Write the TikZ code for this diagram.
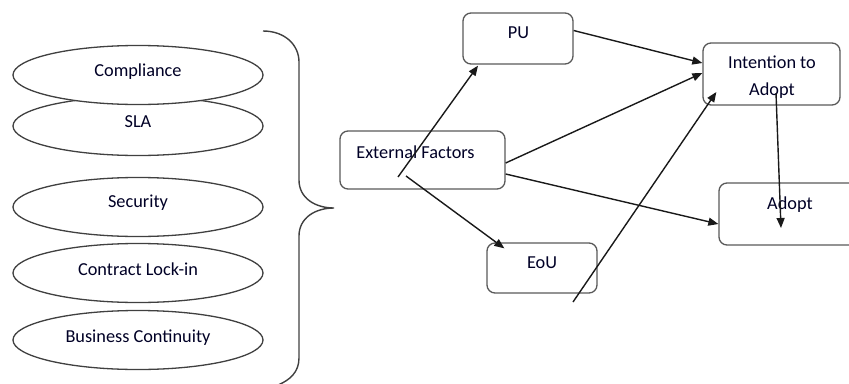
\documentclass[tikz,border=0pt]{standalone}
\usepackage{fontspec}
\setmainfont{Carlito}
\usetikzlibrary{shapes.geometric,arrows.meta}
\begin{document}
\begin{tikzpicture}[x=1pt,y=-1pt,
  oval/.style={draw=black!75,fill=white,line width=1.3pt,ellipse,minimum width=250pt,minimum height=59pt,inner sep=0pt},
  box/.style={draw=black!65,line width=1.3pt,rounded corners=8pt,inner sep=0pt},
  lbl/.style={font=\fontsize{18.3}{26}\selectfont,text=black!85!blue,inner sep=0pt,anchor=base},
  arr/.style={-{Triangle[length=10pt,width=8pt]},line width=1.4pt,draw=black!90},
  braceline/.style={draw=black!75,line width=1.4pt}
  ]
\useasboundingbox (0,0) rectangle (849,383);
% ellipses
\node[oval] (sla) at (138,126) {};
\node[oval] (comp) at (138,75) {};
\node[oval] (sec) at (138,207) {};
\node[oval] (lock) at (138,273) {};
\node[oval] (bc) at (138,340) {};
\node[lbl] (tcomp) at (138,76.5) {Compliance};
\node[lbl] (tsla) at (138,127) {SLA};
\node[lbl] (tsec) at (138,207) {Security};
\node[lbl] (tlock) at (138,275) {Contract Lock-in};
\node[lbl] (tbc) at (138,342) {Business Continuity};
% brace
\draw[braceline] (263,31) .. controls (285,31) and (299,45) .. (299,62) -- (299,180)
  .. controls (299,198) and (315,208) .. (334,208)
  .. controls (315,208) and (299,218) .. (299,236) -- (299,358)
  .. controls (299,372) and (290,380) .. (278,385);
% boxes
\node[box,minimum width=110pt,minimum height=51pt] (pu) at (518,38.5) {};
\node[box,minimum width=165pt,minimum height=58pt] (ef) at (422.5,160) {};
\node[box,minimum width=110pt,minimum height=50pt] (eou) at (542,268) {};
\node[box,minimum width=137pt,minimum height=62pt] (int) at (771.5,74) {};
\node[box,minimum width=141pt,minimum height=62pt] (ad) at (789.5,214) {};
\node[lbl] (tpu) at (518.5,38) {PU};
\node[lbl] (tef) at (415.5,158) {External Factors};
\node[lbl] (teou) at (542,268) {EoU};
\node[lbl] (tint1) at (772,68) {Intention to};
\node[lbl] (tint2) at (772,95) {Adopt};
\node[lbl] (tad) at (790,209) {Adopt};
% connectors
\coordinate (efA) at (398,177);
\coordinate (efB) at (406,176);
\coordinate (low) at (573,302);
\draw[arr] (efA) -- ([xshift=-40pt,yshift=-1pt]pu.south);
\draw[arr] (efB) -- ([xshift=18pt,yshift=-6pt]eou.north west);
\draw[arr] ([yshift=8pt]pu.east) -- ([yshift=11pt]int.west);
\draw[arr] ([yshift=-3pt]ef.east) -- ([yshift=1pt]int.west);
\draw[arr] ([yshift=-14pt]ef.east) -- ([yshift=-10pt]ad.west);
\draw[arr] (low) -- ([xshift=14pt,yshift=-18pt]int.west);
\draw[arr] ([xshift=4.5pt,yshift=-19pt]int.center) -- ([xshift=-8.5pt,yshift=-14pt]ad.center);
\end{tikzpicture}
\end{document}
